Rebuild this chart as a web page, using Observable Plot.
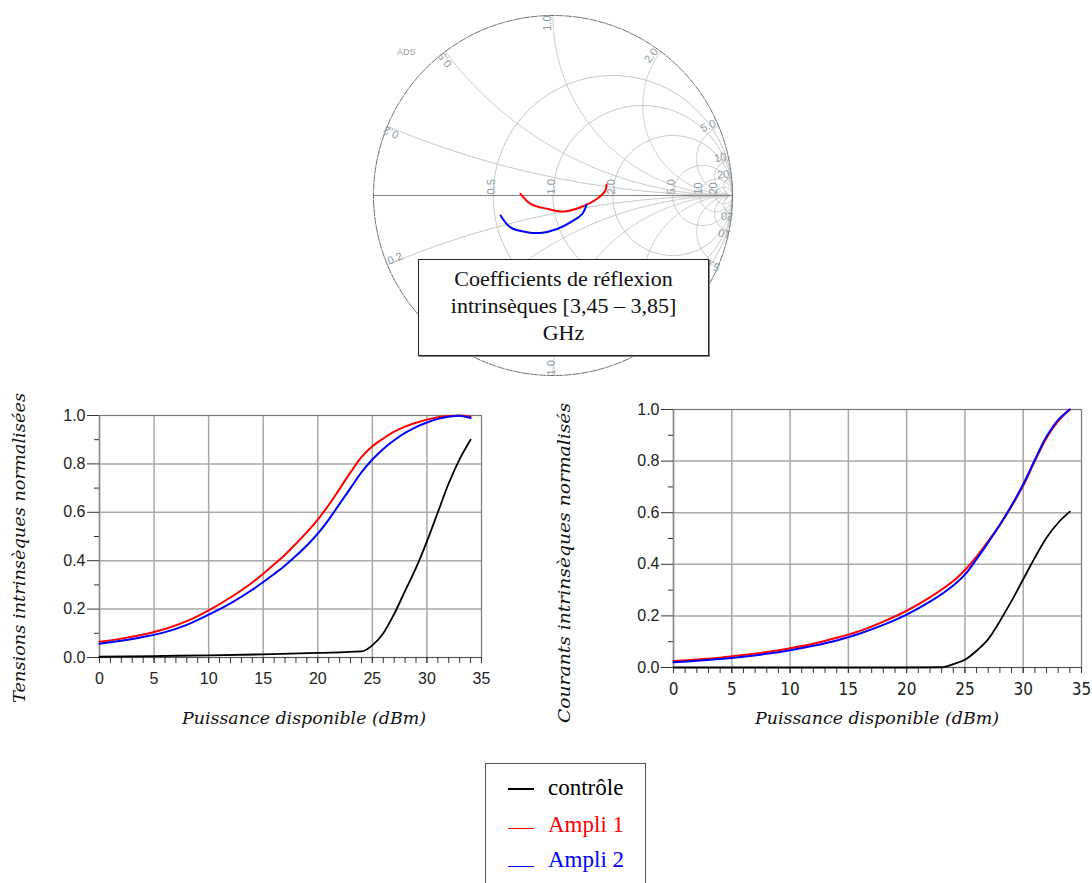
<!DOCTYPE html>
<html><head><meta charset="utf-8">
<script src="https://cdn.jsdelivr.net/npm/d3@7"></script>
<script src="https://cdn.jsdelivr.net/npm/@observablehq/plot@0.6"></script>
<style>
body{margin:0;background:#fff;}
#root{position:relative;width:1092px;height:883px;overflow:hidden;background:#fff;}
.abs{position:absolute;}
.abs svg{overflow:visible;}
#title{left:418px;top:259px;width:289px;height:90px;border:1px solid #222;box-shadow:1px 1px 0 #888;background:#fff;
 font-family:'Liberation Serif','Times New Roman',serif;font-size:22px;line-height:27px;text-align:center;padding-top:5px;box-sizing:content-box;color:#111;}
#legend{left:485px;top:763px;width:159px;height:140px;border:1px solid #555;background:#fff;
 font-family:'Liberation Serif','Times New Roman',serif;font-size:23px;}
.item{position:absolute;left:0;height:24px;}
.sw{position:absolute;left:22px;width:26px;}
.lt{position:absolute;left:62px;top:-14px;white-space:nowrap;}
#ads{left:397px;top:47px;font-family:'Liberation Sans',Arial,sans-serif;font-size:9px;color:#999;}
</style></head><body><div id="root"></div>
<script>
// ---------- data ----------
// Smith chart: intrinsic reflection coefficients 3.45 - 3.85 GHz (real / imaginary parts)
const smithAmpli1Re = [-0.181, -0.125, -0.032, 0.060, 0.153, 0.246, 0.292, 0.298];
const smithAmpli1Im = [0.009, -0.046, -0.074, -0.089, -0.065, -0.018, 0.028, 0.061];
const smithAmpli2Re = [-0.292, -0.237, -0.144, -0.070, 0.023, 0.097, 0.163, 0.187];
const smithAmpli2Im = [-0.111, -0.177, -0.204, -0.208, -0.186, -0.149, -0.102, -0.050];
const smithResistances = [0.5, 1, 2, 5, 10, 20];
const smithResistanceLabels = ["0.5", "1.0", "2.0", "5.0", "10", "20"];
const smithReactances = [0.2, 0.5, 1, 2, 5, 10, 20];
const smithReactanceLabels = ["0.2", "0.5", "1.0", "2.0", "5.0", "10", "20"];

// Tensions intrinsèques normalisées
const tensionPower = [0, 2, 4, 6, 8, 10, 12, 14, 16, 17, 18, 19, 20, 21, 22, 23, 24, 25, 26, 27, 28, 29, 30, 31, 32, 33, 34];
const tensionAmpli1 = [0.065, 0.078, 0.095, 0.118, 0.15, 0.195, 0.248, 0.31, 0.385, 0.425, 0.47, 0.518, 0.57, 0.63, 0.697, 0.765, 0.828, 0.873, 0.905, 0.933, 0.954, 0.97, 0.983, 0.993, 0.998, 1.0, 0.995];
const tensionAmpli2 = [0.057, 0.069, 0.085, 0.105, 0.135, 0.177, 0.224, 0.28, 0.345, 0.38, 0.42, 0.463, 0.512, 0.57, 0.635, 0.70, 0.765, 0.818, 0.862, 0.898, 0.928, 0.952, 0.971, 0.986, 0.995, 0.999, 0.99];
const tensionControlePower = [0, 5, 10, 15, 20, 24, 25, 26, 27, 28, 29, 30, 31, 32, 33, 34];
const tensionControle = [0.003, 0.006, 0.009, 0.013, 0.019, 0.025, 0.05, 0.1, 0.18, 0.275, 0.37, 0.48, 0.6, 0.72, 0.82, 0.9];

// Courants intrinsèques normalisés
const currentPower = [0, 2, 4, 6, 8, 10, 12, 14, 16, 18, 20, 22, 24, 25, 26, 27, 28, 29, 30, 31, 32, 33, 34];
const currentAmpli1 = [0.025, 0.031, 0.038, 0.048, 0.06, 0.075, 0.092, 0.115, 0.142, 0.178, 0.22, 0.272, 0.335, 0.378, 0.43, 0.49, 0.553, 0.625, 0.705, 0.8, 0.89, 0.955, 1.0];
const currentAmpli2 = [0.02, 0.026, 0.033, 0.042, 0.053, 0.067, 0.084, 0.105, 0.132, 0.165, 0.205, 0.255, 0.318, 0.36, 0.42, 0.485, 0.553, 0.628, 0.71, 0.805, 0.895, 0.96, 1.0];
const currentControlePower = [0, 5, 10, 15, 20, 23, 24, 25, 26, 27, 28, 29, 30, 31, 32, 33, 34];
const currentControle = [0, 0, 0, 0, 0, 0.001, 0.013, 0.03, 0.065, 0.11, 0.18, 0.258, 0.342, 0.426, 0.503, 0.561, 0.604];

const xTicks = [0, 5, 10, 15, 20, 25, 30, 35];
const xMinor = d3.range(0, 36, 1);
const yTicks = [0, 0.2, 0.4, 0.6, 0.8, 1.0];
const yMinor = [0.1, 0.3, 0.5, 0.7, 0.9];
const xGrid = [5, 10, 15, 20, 25, 30];
const yGrid = [0.2, 0.4, 0.6, 0.8];

const seriesNames = ["contrôle", "Ampli 1", "Ampli 2"];
const seriesColors = ["#000000", "#ff0000", "#0000ff"];

// ---------- helpers ----------
const root = document.getElementById("root");
function place(el, left, top) {
  const d = document.createElement("div");
  d.className = "abs"; d.style.left = left + "px"; d.style.top = top + "px";
  d.appendChild(el); root.appendChild(d); return d;
}
const table = (xs, ys) => xs.map((x, i) => ({x, y: ys[i]}));

// ---------- Smith chart ----------
const grid = [];
function circle(id, cx, cy, r, n = 240) {
  for (let i = 0; i <= n; i++) { const t = 2 * Math.PI * i / n; grid.push({id, re: cx + r * Math.cos(t), im: cy + r * Math.sin(t)}); }
}
smithResistances.forEach(r => circle("r" + r, r / (r + 1), 0, 1 / (r + 1)));
smithReactances.forEach(x => {
  [1, -1].forEach(s => {
    const xs = s * x, c = 1 / xs, rad = 1 / x, th0 = -s * Math.PI / 2;
    const id = "x" + xs;
    for (let i = 0; i <= 2000; i++) {
      const th = th0 - s * 2 * Math.PI * i / 2000;
      const re = 1 + rad * Math.cos(th), im = c + rad * Math.sin(th);
      if (re * re + im * im > 1 + 1e-9) break;
      grid.push({id, re, im});
    }
    grid.push({id, re: (x * x - 1) / (x * x + 1), im: 2 * xs / (x * x + 1)});
  });
});
const outer = [];
for (let i = 0; i <= 360; i++) { const t = 2 * Math.PI * i / 360; outer.push({re: Math.cos(t), im: Math.sin(t)}); }

const rLab = smithResistances.map((r, i) => ({re: (r - 1) / (r + 1), im: 0, text: smithResistanceLabels[i]}));
const xLabUp = [], xLabDown = [];
smithReactances.forEach((x, i) => {
  const re = (x * x - 1) / (x * x + 1), im = 2 * x / (x * x + 1);
  const a = Math.atan2(im, re) * 180 / Math.PI;
  xLabUp.push({re, im, text: smithReactanceLabels[i], rot: -a});
  xLabDown.push({re, im: -im, text: smithReactanceLabels[i], rot: 180 + a});
});
const labelFill = "#8d9ca6";
const smith = Plot.plot({
  width: 385, height: 390, marginLeft: 13, marginRight: 13, marginTop: 15, marginBottom: 15,
  x: {domain: [-1, 1], axis: null}, y: {domain: [-1, 1], axis: null},
  style: {background: "none", fontFamily: "'Liberation Sans',Arial,sans-serif"},
  marks: [
    Plot.line(grid, {x: "re", y: "im", z: "id", stroke: "#c6c6c6", strokeWidth: 1}),
    Plot.ruleY([0], {stroke: "#808080", strokeWidth: 1}),
    Plot.line(outer, {x: "re", y: "im", stroke: "#707070", strokeWidth: 1, strokeDasharray: "7,1.5"}),
    Plot.text(rLab, {x: "re", y: "im", text: "text", rotate: -90, textAnchor: "start", lineAnchor: "bottom", dx: 2, dy: -1, fill: labelFill, fontSize: 11}),
    Plot.text(xLabUp, {x: "re", y: "im", text: "text", rotate: "rot", textAnchor: "end", lineAnchor: "bottom", dx: -2, fill: labelFill, fontSize: 11}),
    Plot.text(xLabDown, {x: "re", y: "im", text: "text", rotate: "rot", textAnchor: "start", lineAnchor: "bottom", dx: 2, fill: labelFill, fontSize: 11}),
    Plot.line(table(smithAmpli1Re, smithAmpli1Im), {x: "x", y: "y", stroke: seriesColors[1], strokeWidth: 2, curve: "catmull-rom"}),
    Plot.line(table(smithAmpli2Re, smithAmpli2Im), {x: "x", y: "y", stroke: seriesColors[2], strokeWidth: 2, curve: "catmull-rom"})
  ]
});
place(smith, 360, 0);
const ads = document.createElement("div"); ads.id = "ads"; ads.className = "abs"; ads.textContent = "ADS"; root.appendChild(ads);

// ---------- XY charts ----------
function chart({width, height, ml, mr, mt, mb, series, xFont}) {
  const gridStyle = {stroke: "#a8a8a8", strokeOpacity: 1, strokeWidth: 1.5};
  return Plot.plot({
    width, height, marginLeft: ml, marginRight: mr, marginTop: mt, marginBottom: mb,
    x: {domain: [0, 35]}, y: {domain: [0, 1]},
    style: {background: "none", fontFamily: "'Liberation Sans',Arial,sans-serif", fontSize: "16px", color: "#222"},
    marks: [
      Plot.gridX(xGrid, gridStyle),
      Plot.gridY(yGrid, gridStyle),
      Plot.frame({stroke: "#777", strokeWidth: 1.2}),
      Plot.ruleX([0], {stroke: "#888", strokeWidth: 1.5}),
      Plot.ruleY([0], {stroke: "#555", strokeWidth: 1.2}),
      Plot.axisY(yTicks, {tickSize: 12, tickPadding: 2, tickFormat: d3.format(".1f"), fontSize: 16, label: null, stroke: "#333"}),
      Plot.axisY(yMinor, {tickSize: 5, text: null, tickFormat: () => "", label: null, stroke: "#333"}),
      Plot.axisX(xTicks, {tickSize: 6, tickPadding: 9, fontSize: xFont ? 17 : 16, fontFamily: xFont || null, label: null, stroke: "#333"}),
      Plot.axisX(xMinor, {tickSize: 6, text: null, tickFormat: () => "", label: null, stroke: "#333"}),
      ...series.map(s => Plot.line(table(s.x, s.y), {x: "x", y: "y", stroke: s.color, strokeWidth: s.w, curve: s.curve}))
    ]
  });
}
const left = chart({width: 501, height: 317, ml: 99, mr: 20, mt: 35, mb: 40, series: [
  {x: tensionControlePower, y: tensionControle, color: seriesColors[0], w: 1.8, curve: "monotone-x"},
  {x: tensionPower, y: tensionAmpli1, color: seriesColors[1], w: 2, curve: "catmull-rom"},
  {x: tensionPower, y: tensionAmpli2, color: seriesColors[2], w: 2, curve: "catmull-rom"}
]});
place(left, 0, 380);
const right = chart({width: 532, height: 327, ml: 113, mr: 11, mt: 29, mb: 40, xFont: "'Liberation Sans Narrow','DejaVu Sans Condensed',sans-serif", series: [
  {x: currentControlePower, y: currentControle, color: seriesColors[0], w: 1.8, curve: "monotone-x"},
  {x: currentPower, y: currentAmpli1, color: seriesColors[1], w: 2, curve: "catmull-rom"},
  {x: currentPower, y: currentAmpli2, color: seriesColors[2], w: 2, curve: "catmull-rom"}
]});
place(right, 560, 380);

// ---------- axis titles (overlay SVG) ----------
const NS = "http://www.w3.org/2000/svg";
const ov = document.createElementNS(NS, "svg");
ov.setAttribute("width", 1092); ov.setAttribute("height", 883);
ov.style.position = "absolute"; ov.style.left = "0"; ov.style.top = "0"; ov.style.pointerEvents = "none";
function label(txt, x, y, rot, len) {
  const t = document.createElementNS(NS, "text");
  t.setAttribute("transform", `translate(${x},${y}) rotate(${rot})`);
  t.setAttribute("text-anchor", "middle");
  t.setAttribute("font-family", "'DejaVu Serif',serif");
  t.setAttribute("font-style", "italic");
  t.setAttribute("font-size", 16);
  t.setAttribute("fill", "#111");
  t.setAttribute("textLength", len);
  t.setAttribute("lengthAdjust", "spacingAndGlyphs");
  t.textContent = txt; ov.appendChild(t);
}
label("Tensions intrinsèques normalisées", 25, 548, -90, 310);
label("Courants  intrinsèques normalisés", 570, 563, -90, 320);
label("Puissance disponible (dBm)", 304, 724, 0, 244);
label("Puissance disponible (dBm)", 877, 724, 0, 244);
root.appendChild(ov);

// ---------- title box ----------
const title = document.createElement("div");
title.id = "title"; title.className = "abs";
title.innerHTML = "Coefficients de réflexion<br>intrinsèques [3,45 – 3,85]<br>GHz";
root.appendChild(title);

// ---------- legend ----------
const legend = document.createElement("div");
legend.id = "legend"; legend.className = "abs";
const itemY = [25, 62, 97];
const swH = [2, 1, 1];
const swTop = [-1, 2, 5];
seriesNames.forEach((n, i) => {
  const it = document.createElement("div"); it.className = "item"; it.style.top = itemY[i] + "px";
  const sw = document.createElement("div"); sw.className = "sw";
  sw.style.height = swH[i] + "px"; sw.style.background = seriesColors[i]; sw.style.top = swTop[i] + "px";
  const tx = document.createElement("div"); tx.className = "lt"; tx.style.color = seriesColors[i]; tx.textContent = n;
  it.appendChild(sw); it.appendChild(tx); legend.appendChild(it);
});
root.appendChild(legend);
</script>
</body></html>
